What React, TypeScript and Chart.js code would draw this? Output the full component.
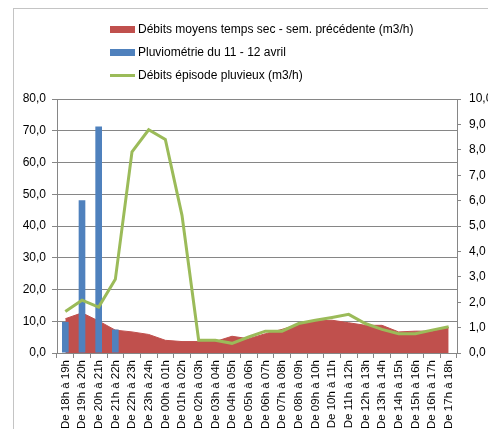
import React, { useEffect, useRef } from 'react';
import { Chart, registerables } from 'chart.js';

Chart.register(...registerables);

const categories: string[] = [
  'De 18h à 19h', 'De 19h à 20h', 'De 20h à 21h', 'De 21h à 22h', 'De 22h à 23h', 'De 23h à 24h',
  'De 00h à 01h', 'De 01h à 02h', 'De 02h à 03h', 'De 03h à 04h', 'De 04h à 05h', 'De 05h à 06h',
  'De 06h à 07h', 'De 07h à 08h', 'De 08h à 09h', 'De 09h à 10h', 'De 10h à 11h', 'De 11h à 12h',
  'De 12h à 13h', 'De 13h à 14h', 'De 14h à 15h', 'De 15h à 16h', 'De 16h à 17h', 'De 17h à 18h',
];

// Débits moyens temps sec - semaine précédente (right axis)
const debitsSec: number[] = [
  1.35, 1.58, 1.26, 0.9, 0.83, 0.73, 0.5, 0.45, 0.45, 0.45, 0.66, 0.56,
  0.76, 0.93, 1.13, 1.26, 1.29, 1.19, 1.09, 1.09, 0.83, 0.86, 0.86, 1.0,
];

// Pluviométrie du 11 - 12 avril (left axis)
const pluviometrie: number[] = [
  9.8, 48.1, 71.3, 7.4, 0, 0, 0, 0, 0, 0, 0, 0,
  0, 0, 0, 0, 0, 0, 0, 0, 0, 0, 0, 0,
];

// Débits épisode pluvieux (right axis)
const debitsPluvieux: number[] = [
  1.63, 2.08, 1.81, 2.9, 7.92, 8.79, 8.41, 5.42, 0.5, 0.5, 0.38, 0.63,
  0.86, 0.86, 1.16, 1.29, 1.4, 1.52, 1.16, 0.93, 0.76, 0.76, 0.9, 1.03,
];

const leftTicks = { min: 0, max: 80, step: 10 };
const rightTicks = { min: 0, max: 10, step: 1 };

const legendItems = [
  { label: 'Débits moyens temps sec - sem. précédente (m3/h)', color: '#C0504D', kind: 'box' },
  { label: 'Pluviométrie du 11 - 12 avril', color: '#4F81BD', kind: 'box' },
  { label: 'Débits épisode pluvieux (m3/h)', color: '#9BBB59', kind: 'line' },
];

const FONT = "'Liberation Sans', Arial, sans-serif";
const AXIS = '#868686';
const W = 500;
const H = 429;

const fmt = (v: any) => Number(v).toFixed(1).replace('.', ',');

export default function App() {
  const ref = useRef<HTMLCanvasElement | null>(null);

  useEffect(() => {
    if (!ref.current) return;
    const chart = new Chart(ref.current, {
      data: {
        labels: categories,
        datasets: [
          {
            type: 'bar',
            label: 'Pluviométrie du 11 - 12 avril',
            data: pluviometrie,
            backgroundColor: '#4F81BD',
            borderWidth: 0,
            yAxisID: 'y',
            barPercentage: 0.4,
            categoryPercentage: 1.0,
            order: 2,
          },
          {
            type: 'line',
            label: 'Débits moyens temps sec - sem. précédente (m3/h)',
            data: debitsSec,
            backgroundColor: '#C0504D',
            borderColor: '#C0504D',
            borderWidth: 1,
            pointRadius: 0,
            fill: 'origin',
            tension: 0,
            yAxisID: 'y1',
            order: 3,
          },
          {
            type: 'line',
            label: 'Débits épisode pluvieux (m3/h)',
            data: debitsPluvieux,
            borderColor: '#9BBB59',
            backgroundColor: '#9BBB59',
            borderWidth: 3,
            pointRadius: 0,
            fill: false,
            tension: 0,
            yAxisID: 'y1',
            order: 1,
          },
        ] as any,
      },
      options: {
        responsive: false,
        animation: false,
        devicePixelRatio: 1,
        layout: { padding: { top: 99, left: 0, right: 0, bottom: 0 } },
        plugins: {
          legend: { display: false },
          tooltip: { enabled: false },
          title: { display: false },
        },
        scales: {
          x: {
            type: 'category',
            offset: true,
            grid: {
              offset: true,
              drawOnChartArea: false,
              drawTicks: true,
              tickLength: 5,
              color: AXIS,
            },
            border: { color: AXIS },
            ticks: {
              autoSkip: false,
              maxRotation: 90,
              minRotation: 90,
              padding: 2,
              color: '#000',
              font: { family: FONT, size: 11.5 },
            },
            afterFit: (s: any) => { s.height = H - 353; },
          },
          y: {
            position: 'left',
            min: leftTicks.min,
            max: leftTicks.max,
            ticks: {
              stepSize: leftTicks.step,
              callback: (v: any) => fmt(v),
              padding: 6,
              color: '#000',
              font: { family: FONT, size: 12 },
            },
            grid: { color: AXIS, tickLength: 5, drawTicks: true },
            border: { color: AXIS },
            afterFit: (s: any) => { s.width = 57; },
          },
          y1: {
            position: 'right',
            min: rightTicks.min,
            max: rightTicks.max,
            ticks: {
              stepSize: rightTicks.step,
              callback: (v: any) => fmt(v),
              padding: 8,
              color: '#000',
              font: { family: FONT, size: 12 },
            },
            grid: { drawOnChartArea: false, color: AXIS, tickLength: 4, drawTicks: true },
            border: { color: AXIS },
            afterFit: (s: any) => { s.width = W - 457; },
          },
        },
      } as any,
    });
    return () => chart.destroy();
  }, []);

  const rowCenters = [29, 52, 75];

  return (
    <div
      style={{
        position: 'fixed',
        left: 0,
        top: 0,
        width: 488,
        height: 429,
        overflow: 'hidden',
        background: '#fff',
        fontFamily: FONT,
      }}
    >
      <div
        style={{
          position: 'absolute',
          left: 13,
          top: 8,
          width: 600,
          height: 600,
          borderLeft: '1px solid #c4c4c4',
          borderTop: '1px solid #c4c4c4',
        }}
      />
      <canvas
        ref={ref}
        width={W}
        height={H}
        style={{ position: 'absolute', left: 0, top: 0, width: W, height: H }}
      />
      {legendItems.map((it, i) => (
        <div
          key={i}
          style={{
            position: 'absolute',
            left: 110,
            top: rowCenters[i] - 8,
            height: 16,
            display: 'flex',
            alignItems: 'center',
            whiteSpace: 'nowrap',
            fontSize: 12,
            lineHeight: '16px',
            color: '#000',
          }}
        >
          <span
            style={{
              display: 'inline-block',
              width: 25,
              height: it.kind === 'box' ? 7 : 3,
              background: it.color,
              marginRight: 3,
            }}
          />
          <span>{it.label}</span>
        </div>
      ))}
    </div>
  );
}
